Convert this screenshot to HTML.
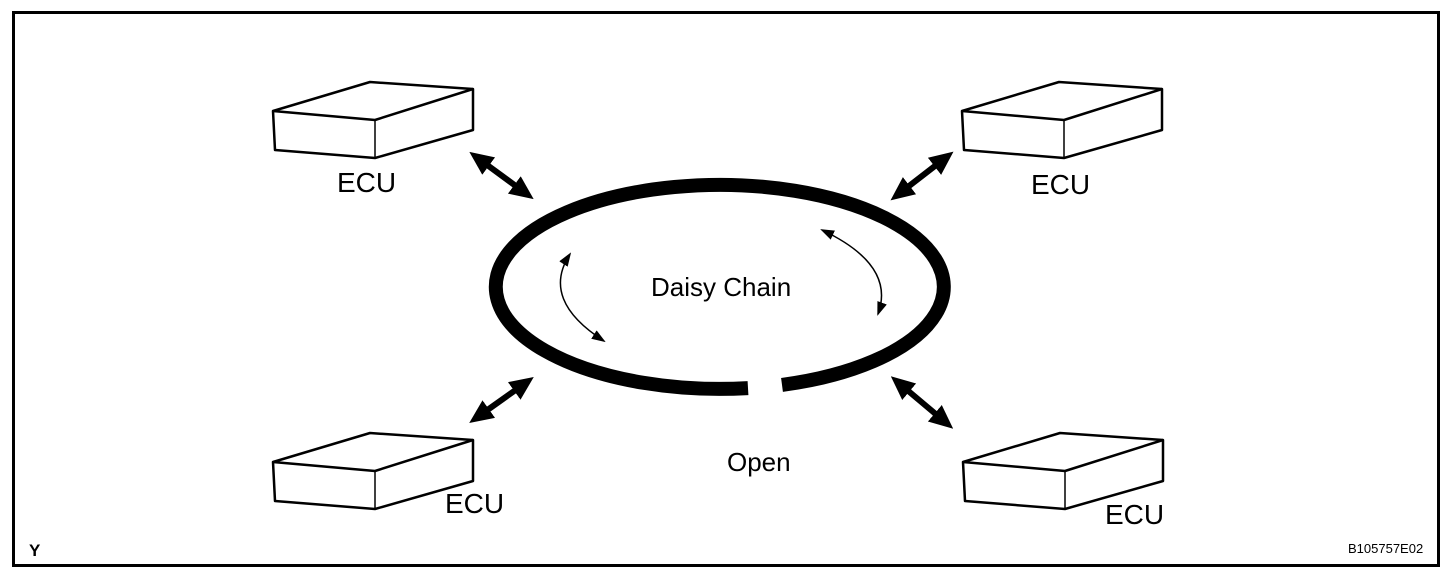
<!DOCTYPE html>
<html><head><style>
html,body{margin:0;padding:0;background:#fff;}
svg{display:block;}
text{font-family:"Liberation Sans",Arial,sans-serif;fill:#000;}
</style></head><body>
<svg width="1456" height="576" viewBox="0 0 1456 576">
<defs>
<marker id="tk" markerWidth="4" markerHeight="4" refX="2" refY="2" orient="auto-start-reverse" markerUnits="strokeWidth">
<path d="M0,0.2 L4,2 L0,3.8 Z" fill="#000"/></marker>
<marker id="tn" markerWidth="14" markerHeight="10" refX="12" refY="5" orient="auto-start-reverse" markerUnits="userSpaceOnUse">
<path d="M0,0 L14,5 L0,10 Z" fill="#000"/></marker>
<g id="box" fill="#fff" stroke="#000" stroke-width="2.5" stroke-linejoin="round">
<path d="M0,29 L97,0 L200,7 L200,48 L102,76 L2,68 Z"/>
<path d="M0,29 L102,38 L200,7" fill="none"/>
<path d="M102,38 L102,76" stroke-width="1.5"/>
</g>
</defs>
<rect x="13.5" y="12.5" width="1425" height="553" fill="none" stroke="#000" stroke-width="3"/>
<use href="#box" x="273" y="82"/>
<use href="#box" x="962" y="82"/>
<use href="#box" x="273" y="433"/>
<use href="#box" x="963" y="433"/>
<path d="M748,388.1 A224,102 0 1 1 782,384.9" fill="none" stroke="#000" stroke-width="14"/>
<g stroke="#000" stroke-width="6" marker-start="url(#tk)" marker-end="url(#tk)">
<line x1="479" y1="159" x2="524" y2="192"/>
<line x1="944" y1="159" x2="900" y2="193"/>
<line x1="479" y1="416" x2="524" y2="384"/>
<line x1="900" y1="384" x2="944" y2="421"/>
</g>
<g fill="none" stroke="#000" stroke-width="1.5" marker-start="url(#tn)" marker-end="url(#tn)">
<path d="M570,254 Q540,300 604,341"/>
<path d="M822,230 Q896,265 878,314"/>
</g>
<g font-size="28">
<text x="337" y="192">ECU</text>
<text x="1031" y="194">ECU</text>
<text x="445" y="513">ECU</text>
<text x="1105" y="524">ECU</text>
<text x="651" y="296" font-size="26">Daisy Chain</text>
<text x="727" y="471" font-size="26">Open</text>
</g>
<text x="29" y="556" font-size="17" font-weight="bold">Y</text>
<text x="1348" y="553" font-size="13">B105757E02</text>
</svg>
</body></html>
